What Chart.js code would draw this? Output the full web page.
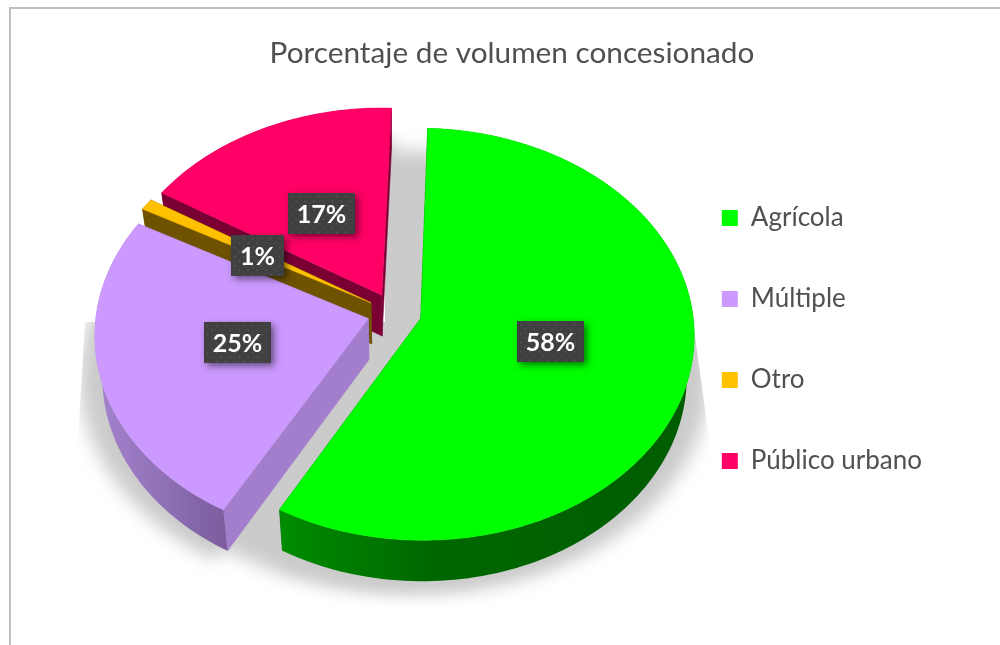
<!DOCTYPE html>
<html><head><meta charset="utf-8">
<style>html,body{margin:0;background:#fff}canvas{display:block}</style>
<script src="https://cdn.jsdelivr.net/npm/chart.js@4"></script>
</head><body>
<div style="width:1000px;height:645px"><canvas id="c" width="1000" height="645"></canvas></div>
<script>
const chartTitle = 'Porcentaje de volumen concesionado';
const categories = ['Agrícola', 'Múltiple', 'Otro', 'Público urbano'];
const shares = [57.6, 24.8, 0.9, 16.7];
const faceColors = ['#00FF00', '#CC99FF', '#FFC000', '#FF0066'];
const sideColors = ['#006E00', '#A27ECC', '#6E5200', '#7A0034'];
const rimColors = [['#008C00', '#006800', '#005C00'], ['#A382CC', '#7B5C9E', '#7B5C9E'], ['#6E5200', '#6E5200', '#6E5200'], ['#7A0034', '#7A0034', '#7A0034']];
const labelNudgeX = [-3, 2, 1, 1];
const labelNudgeY = [-7, -7, 1, 2];

// Perspective view of the pie disc, as fitted to the picture
const view = {cx: 394.5, cy: 313, A: 272, B: 204, a: 0.076, explode: 0.1, depth: 41, far: 0.975};
function project(X, Y, low) {
  const p = 1 / (1 - view.a * Y);
  return [view.cx + view.A * X * p * (low ? view.far : 1), view.cy + view.B * Y * p + (low ? view.depth : 0)];
}
function sliceGeom(arc) {
  const s = arc.startAngle, e = arc.endAngle, m = (s + e) / 2;
  const ox = Math.cos(m) * view.explode, oy = Math.sin(m) * view.explode;
  const n = Math.max(6, Math.ceil((e - s) * 40));
  const rim = [];
  for (let i = 0; i <= n; i++) {
    const t = s + (e - s) * i / n;
    rim.push([ox + Math.cos(t), oy + Math.sin(t)]);
  }
  return {ox, oy, rim, m};
}
function poly(ctx, pts) {
  ctx.beginPath();
  pts.forEach((q, i) => i ? ctx.lineTo(q[0], q[1]) : ctx.moveTo(q[0], q[1]));
  ctx.closePath();
}
function shadowPoint(X, Y) {
  const r = project(X, Y);
  return [view.cx + (r[0] - view.cx) * 1.05, view.cy + (r[1] - view.cy) * 1.05 + 40];
}
const pie3d = {
  id: 'pie3d',
  beforeDraw(chart) {
    const ctx = chart.ctx;
    ctx.save();
    ctx.fillStyle = '#BFBFBF';
    ctx.fillRect(9, 7, 991, 2);
    ctx.fillRect(9, 7, 2, 638);
    ctx.restore();
  },
  beforeDatasetsDraw(chart) {
    const ctx = chart.ctx, arcs = chart.getDatasetMeta(0).data;
    // soft shadow under the pie
    ctx.save();
    poly(ctx, [[385, 130], [430, 130], [430, 322], [693, 322], [712, 460], [712, 611], [70, 611], [78, 440], [85, 322], [385, 322]]);
    ctx.clip();
    ctx.filter = 'blur(9px)';
    ctx.fillStyle = '#CBCBCB';
    const disc = [];
    for (let i = 0; i < 180; i++) {
      const t = i / 180 * Math.PI * 2;
      disc.push(shadowPoint(Math.cos(t) * 1.02, Math.sin(t) * 1.02));
    }
    poly(ctx, disc); ctx.fill();
    arcs.forEach(arc => {
      const g = sliceGeom(arc);
      poly(ctx, [[g.ox, g.oy], ...g.rim].map(q => shadowPoint(q[0], q[1])));
      ctx.fill();
    });
    ctx.restore();
    // back to front: the last slices sit furthest away
    [3, 2, 1, 0].forEach(i => {
      const arc = arcs[i], g = sliceGeom(arc);
      const top = g.rim.map(q => project(q[0], q[1]));
      const low = g.rim.map(q => project(q[0], q[1], true));
      const a0 = project(g.ox, g.oy), a1 = project(g.ox, g.oy, true);
      ctx.save();
      ctx.fillStyle = sideColors[i]; ctx.strokeStyle = sideColors[i]; ctx.lineWidth = 0.5;
      poly(ctx, [a0, a1, low[0], top[0]]); ctx.fill(); ctx.stroke();
      poly(ctx, [a0, a1, low[low.length - 1], top[top.length - 1]]); ctx.fill(); ctx.stroke();
      const xs = low.map(q => q[0]);
      const x0 = Math.min(...xs), x1 = Math.max(...xs);
      const grad = ctx.createLinearGradient(x0, 0, x1, 0);
      const c = rimColors[i];
      if (i === 1) { grad.addColorStop(0, c[0]); grad.addColorStop(1, c[1]); }
      else { grad.addColorStop(0, c[0]); grad.addColorStop(0.35, c[1]); grad.addColorStop(1, c[2]); }
      ctx.fillStyle = grad;
      poly(ctx, [...top, ...low.slice().reverse()]); ctx.fill();
      ctx.fillStyle = arc.options.backgroundColor;
      ctx.strokeStyle = arc.options.backgroundColor;
      poly(ctx, [a0, ...top]); ctx.fill(); ctx.stroke();
      ctx.restore();
    });
    // value boxes
    const total = shares.reduce((s, v) => s + v, 0);
    [3, 2, 1, 0].forEach(i => {
      const g = sliceGeom(arcs[i]);
      const c = project(g.ox + Math.cos(g.m) * 0.5, g.oy + Math.sin(g.m) * 0.5);
      const txt = Math.round(shares[i] / total * 100) + '%';
      ctx.save();
      ctx.font = 'bold 25px Lato';
      const w = Math.round(ctx.measureText(txt).width) + 18, h = 41;
      const x = Math.round(c[0] - w / 2) + labelNudgeX[i], y = Math.round(c[1] - h / 2) + 2 + labelNudgeY[i];
      ctx.save();
      ctx.shadowColor = 'rgba(0,0,0,0.5)'; ctx.shadowBlur = 7; ctx.shadowOffsetX = 3; ctx.shadowOffsetY = 3;
      ctx.fillStyle = '#404040';
      ctx.fillRect(x, y, w, h);
      ctx.restore();
      ctx.fillStyle = 'rgba(255,255,255,0.13)';
      let row = 0;
      for (let dy = 3; dy < h - 1; dy += 4.5, row++) {
        for (let dx = 3 + (row % 2) * 4.5; dx < w - 1; dx += 9) ctx.fillRect(x + dx, y + dy, 1.4, 1.4);
      }
      ctx.fillStyle = '#fff';
      ctx.textAlign = 'center'; ctx.textBaseline = 'middle';
      ctx.fillText(txt, x + w / 2, y + h / 2 + 1);
      ctx.restore();
    });
    return false;
  }
};
new Chart(document.getElementById('c'), {
  type: 'pie',
  data: {labels: categories, datasets: [{data: shares, backgroundColor: faceColors, borderWidth: 0}]},
  plugins: [pie3d],
  options: {
    responsive: false, animation: false, rotation: 2,
    layout: {padding: {left: 92, right: 68, top: 34, bottom: 0}},
    plugins: {
      tooltip: {enabled: false},
      title: {display: true, text: chartTitle, color: '#505050', font: {family: 'Lato', size: 29.75, weight: 'normal'}, padding: {top: 2, bottom: 12}},
      legend: {position: 'right', labels: {color: '#505050', font: {family: 'Lato', size: 26}, boxWidth: 16, boxHeight: 16, padding: 55}}
    }
  }
});
</script>
</body></html>
